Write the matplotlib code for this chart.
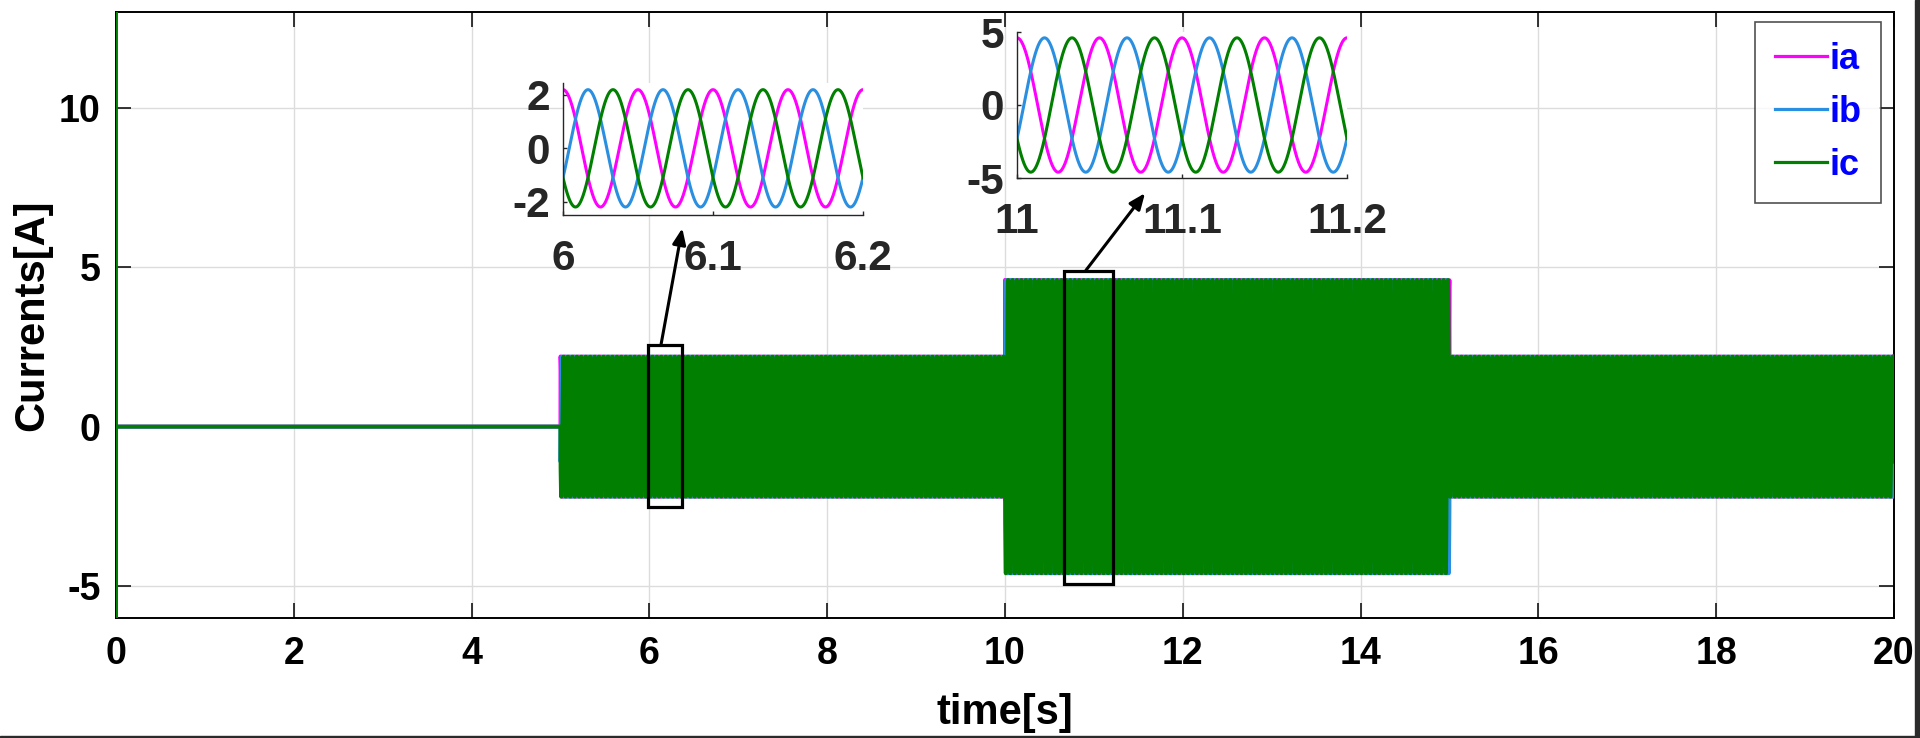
import numpy as np
import matplotlib
matplotlib.use('Agg')
import matplotlib.pyplot as plt
from matplotlib.patches import Rectangle

plt.rcParams['font.family'] = ['Liberation Sans', 'DejaVu Sans']
plt.rcParams['font.weight'] = 'bold'
plt.rcParams['axes.unicode_minus'] = False

# load steps of the three phase currents
seg_edges = [0, 5, 10, 15, 20]      # s
seg_amps = [0.0, 2.2, 4.6, 2.2]     # peak current per step [A]
freq_hz = 20
names = ['ia', 'ib', 'ic']
phase_deg = [0, -120, 120]
colors = ['#ff00ff', '#2a8fe0', '#007f00']

# switch-on transient on ic at t=0
spike_t = [0.0, 0.0002, 0.0004]
spike_ic = [14.0, -7.0, 0.0]

xticks = [0, 2, 4, 6, 8, 10, 12, 14, 16, 18, 20]
yticks = [-5, 0, 5, 10]

z1_xlim = [6.0, 6.2]
z1_xticks = [6.0, 6.1, 6.2]
z1_xlabels = ['6', '6.1', '6.2']
z1_yticks = [-2, 0, 2]
z2_xlim = [11.0, 11.2]
z2_xticks = [11.0, 11.1, 11.2]
z2_xlabels = ['11', '11.1', '11.2']
z2_yticks = [-5, 0, 5]


def phase_current(t, k):
    idx = np.clip(np.searchsorted(seg_edges, t, side='right') - 1, 0, len(seg_amps) - 1)
    amp = np.asarray(seg_amps)[idx]
    return amp * np.cos(2 * np.pi * freq_hz * t + np.deg2rad(phase_deg[k]))


fig = plt.figure(figsize=(19.2, 7.38), dpi=100)
ax = fig.add_axes([116 / 1920, 1 - 618 / 738, 1778 / 1920, 606 / 738])

t = np.linspace(0, 20, 40001)
lines = []
for k in range(3):
    tt = t
    y = phase_current(t, k)
    if names[k] == 'ic':
        keep = t > spike_t[-1]
        tt = np.concatenate([spike_t, t[keep]])
        y = np.concatenate([spike_ic, y[keep]])
    ln, = ax.plot(tt, y, color=colors[k], lw=2.8, label=names[k], zorder=3)
    lines.append(ln)

ax.set_xlim(0, 20)
ax.set_ylim(-6, 13)
ax.set_xticks(xticks)
ax.set_yticks(yticks)
ax.grid(True, color='#dcdcdc', lw=1)
ax.tick_params(direction='in', length=11, width=1.1, labelsize=27,
               top=True, right=True, colors='black')
ax.tick_params(axis='x', pad=13)
ax.tick_params(axis='y', pad=11)
for s in ax.spines.values():
    s.set_linewidth(1.4)
ax.set_xlabel('time[s]', fontsize=30, fontweight='bold', labelpad=15)
ax.set_ylabel('Currents[A]', fontsize=30, fontweight='bold')
ax.yaxis.set_label_coords(-0.036, 0.5)

leg = ax.legend(handles=lines, loc='upper right',
                bbox_to_anchor=(1881 / 1920, 1 - 22 / 738),
                bbox_transform=fig.transFigure, labelcolor='blue',
                frameon=True, fancybox=False, borderaxespad=0,
                handlelength=1.45, handletextpad=0.05, labelspacing=0.5,
                borderpad=0.55, prop={'weight': 'bold', 'size': 26})
leg.get_frame().set_edgecolor('#262626')
leg.get_frame().set_linewidth(1.2)
for ln in leg.get_lines():
    ln.set_linewidth(2.3)

# zoom boxes and arrows
ax.add_patch(Rectangle((5.98, -2.53), 0.39, 5.09, fill=False, ec='black', lw=2.3, zorder=5))
ax.add_patch(Rectangle((10.667, -4.93), 0.543, 9.82, fill=False, ec='black', lw=2.3, zorder=5))
ax.annotate('', xy=(6.37, 6.22), xytext=(6.13, 2.56),
            arrowprops=dict(arrowstyle='-|>,head_length=0.6,head_width=0.25',
                            color='black', lw=2.2, mutation_scale=16, shrinkA=0, shrinkB=0),
            zorder=6)
ax.annotate('', xy=(11.575, 7.32), xytext=(10.91, 4.9),
            arrowprops=dict(arrowstyle='-|>,head_length=0.6,head_width=0.25',
                            color='black', lw=2.2, mutation_scale=16, shrinkA=0, shrinkB=0),
            zorder=6)

# insets
def add_inset(rect, xlim, ylim, xt, xl, yt):
    a = fig.add_axes(rect)
    tz = np.linspace(xlim[0], xlim[1], 2001)
    for k in range(3):
        a.plot(tz, phase_current(tz, k), color=colors[k], lw=2.2)
    a.set_xlim(xlim)
    a.set_ylim(ylim)
    a.set_xticks(xt)
    a.set_xticklabels(xl)
    a.set_yticks(yt)
    a.spines['top'].set_visible(False)
    a.spines['right'].set_visible(False)
    for s in ['left', 'bottom']:
        a.spines[s].set_color('#262626')
        a.spines[s].set_linewidth(1.0)
    a.tick_params(direction='in', length=3, width=1, labelsize=30.5, colors='#262626')
    a.tick_params(axis='x', pad=17)
    a.tick_params(axis='y', pad=9.5)
    return a

add_inset([563 / 1920, 1 - 215 / 738, 300 / 1920, 132 / 738], z1_xlim, [-2.5, 2.45],
          z1_xticks, z1_xlabels, z1_yticks)
add_inset([1017 / 1920, 1 - 178 / 738, 330 / 1920, 146 / 738], z2_xlim, [-5, 5],
          z2_xticks, z2_xlabels, z2_yticks)

# dark screenshot edges
fig.patches.append(Rectangle((1915 / 1920, 0), 5 / 1920, 1, transform=fig.transFigure,
                             color='#2b2b2b', zorder=10))
fig.patches.append(Rectangle((0, 0), 1, 2 / 738, transform=fig.transFigure,
                             color='#2b2b2b', zorder=10))

fig.savefig('out.png', dpi=100)
